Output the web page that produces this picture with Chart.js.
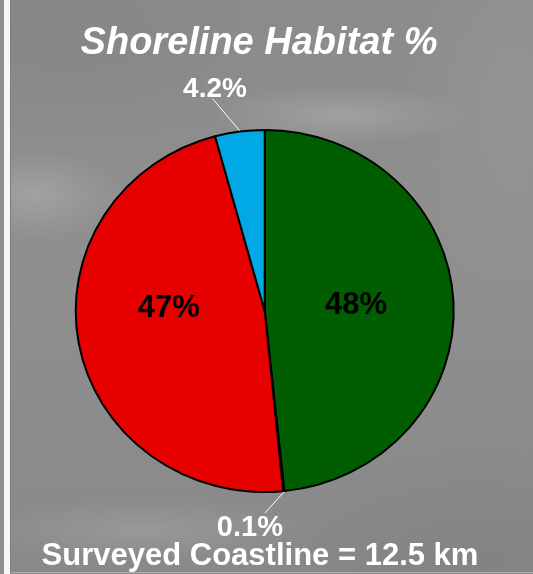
<!DOCTYPE html>
<html>
<head>
<meta charset="utf-8">
<title>Shoreline Habitat %</title>
<script src="https://cdn.jsdelivr.net/npm/chart.js@4.4.1/dist/chart.umd.min.js"></script>
<style>
  html, body { margin: 0; padding: 0; }
  body {
    width: 533px; height: 574px; overflow: hidden; position: relative;
    background: #8a8a8a;
  }
  /* narrow strip and white rule on the left edge */
  #strip { position: absolute; left: 0; top: 0; width: 4px; height: 574px; background: #8f8f8f; }
  #rule  { position: absolute; left: 4px; top: 0; width: 6px; height: 574px; background: #f6f6f6; }
  /* grey photographic backdrop with soft light streaks */
  #panel {
    position: absolute; left: 10px; top: 0; width: 523px; height: 573px;
    border-left: 1px solid #7c7c7c;
    border-bottom: 1px solid #b0b0b0;
    box-sizing: border-box;
    background:
      radial-gradient(ellipse 130px 30px at 330px 115px, rgba(190,190,190,0.40), rgba(190,190,190,0) 100%),
      radial-gradient(ellipse 90px 45px at 25px 195px, rgba(185,185,185,0.45), rgba(185,185,185,0) 100%),
      radial-gradient(ellipse 170px 32px at 130px 530px, rgba(180,180,180,0.35), rgba(180,180,180,0) 100%),
      radial-gradient(ellipse 120px 220px at 505px 90px, rgba(165,165,165,0.30), rgba(165,165,165,0) 100%),
      radial-gradient(ellipse 220px 120px at 470px 560px, rgba(112,112,112,0.25), rgba(112,112,112,0) 100%),
      radial-gradient(ellipse 200px 100px at 60px 40px, rgba(118,118,118,0.25), rgba(118,118,118,0) 100%),
      linear-gradient(180deg, #8b8b8b 0%, #8f8f8f 45%, #898989 100%);
  }
  #chartBox { position: absolute; left: 0; top: 0; width: 533px; height: 574px; }
</style>
</head>
<body>
<div id="strip"></div>
<div id="rule"></div>
<div id="panel"></div>
<div id="chartBox"><canvas id="chart"></canvas></div>
<script>
// Habitat shares along the surveyed shoreline (percent)
const categories = ['Habitat A', 'Habitat B', 'Habitat C', 'Habitat D'];
const shares = [48, 0.1, 47, 4.2];
const shareLabels = ['48%', '0.1%', '47%', '4.2%'];
const titleText = 'Shoreline Habitat %';
const footText = 'Surveyed Coastline = 12.5 km';

const sliceColors = ['#005e00', '#c98a00', '#e60000', '#00a8e6'];

// The pie is drawn slightly flattened vertically
const SQUASH_Y = 0.958;

// Where each value label sits relative to its slice
const labelPlacement = [
  { inside: true, dx: -3, dy: 8, size: 31, color: '#000000' },
  { inside: false, lineDx: -19, lineDy: 21, textDx: -15, textDy: 23, size: 29, color: '#ffffff' },
  { inside: true, dx: -3, dy: -10.5, size: 31, color: '#000000' },
  { inside: false, lineDx: -27, lineDy: -32, textDx: 2.5, textDy: -2, size: 28, color: '#ffffff' }
];

const squashPlugin = {
  id: 'squash',
  beforeDatasetsDraw(chart) {
    const arc = chart.getDatasetMeta(0).data[0];
    if (!arc) return;
    const ctx = chart.ctx;
    ctx.save();
    ctx.translate(arc.x, arc.y);
    ctx.scale(1, SQUASH_Y);
    ctx.translate(-arc.x, -arc.y);
  },
  afterDatasetsDraw(chart) {
    chart.ctx.restore();
  }
};

const textPlugin = {
  id: 'texts',
  afterDraw(chart) {
    const ctx = chart.ctx;
    const meta = chart.getDatasetMeta(0);
    ctx.save();
    ctx.textAlign = 'center';
    ctx.textBaseline = 'alphabetic';

    meta.data.forEach((arc, i) => {
      const p = arc.getProps(['x', 'y', 'startAngle', 'endAngle', 'outerRadius', 'innerRadius'], true);
      const mid = (p.startAngle + p.endAngle) / 2;
      const place = labelPlacement[i];
      ctx.font = 'bold ' + place.size + 'px "Liberation Sans", Arial, sans-serif';
      ctx.fillStyle = place.color;
      if (place.inside) {
        const r = (p.innerRadius + p.outerRadius) / 2;
        const cx = p.x + Math.cos(mid) * r;
        const cy = p.y + Math.sin(mid) * r * SQUASH_Y;
        ctx.fillText(shareLabels[i], cx + place.dx, cy + place.dy);
      } else {
        const ex = p.x + Math.cos(mid) * (p.outerRadius + 1);
        const ey = p.y + Math.sin(mid) * (p.outerRadius + 1) * SQUASH_Y;
        const lx = ex + place.lineDx;
        const ly = ey + place.lineDy;
        ctx.strokeStyle = '#ffffff';
        ctx.lineWidth = 1;
        ctx.beginPath();
        ctx.moveTo(ex, ey);
        ctx.lineTo(lx, ly);
        ctx.stroke();
        ctx.fillText(shareLabels[i], lx + place.textDx, ly + place.textDy);
      }
    });

    ctx.fillStyle = '#ffffff';
    ctx.font = 'italic bold 38px "Liberation Sans", Arial, sans-serif';
    ctx.fillText(titleText, 259, 54);
    ctx.font = 'bold 31px "Liberation Sans", Arial, sans-serif';
    ctx.fillText(footText, 260, 565);
    ctx.restore();
  }
};

new Chart(document.getElementById('chart'), {
  type: 'pie',
  data: {
    labels: categories,
    datasets: [{
      data: shares,
      backgroundColor: sliceColors,
      borderColor: '#000000',
      borderWidth: 2,
      radius: 189
    }]
  },
  options: {
    responsive: true,
    maintainAspectRatio: false,
    animation: false,
    layout: { padding: { left: 0, right: 3.6, top: 48, bottom: 0 } },
    plugins: {
      legend: { display: false },
      tooltip: { enabled: false },
      title: { display: false }
    },
    events: []
  },
  plugins: [squashPlugin, textPlugin]
});
</script>
</body>
</html>
